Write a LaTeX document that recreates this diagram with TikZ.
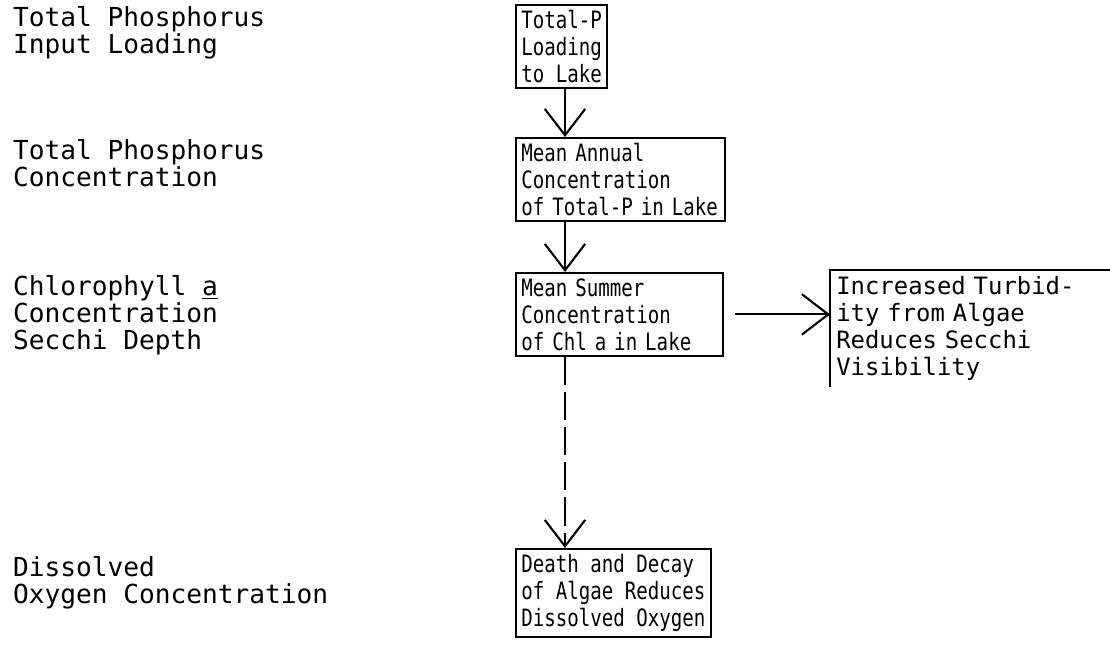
\documentclass[tikz,border=0pt]{standalone}
\usepackage{fontspec}
\setmonofont{DejaVu Sans Mono}
\newfontfamily\boxfont[FakeStretch=0.8]{DejaVu Sans Mono}
\usetikzlibrary{arrows.meta,calc}

\begin{document}
\begin{tikzpicture}[x=0.02cm,y=-0.02cm,line width=1.2pt,
    every node/.style={font=\ttfamily\fontsize{14.9}{15.4}\selectfont,align=left,anchor=north west,inner sep=0pt},
    box/.style={draw,font=\boxfont\fontsize{13.6}{15.4}\selectfont,inner xsep=3pt,inner ysep=3pt},
    vee/.style={-{Straight Barb[length=15pt,width=23pt]}}]
  \useasboundingbox (0,0) rectangle (1110,648);
  % row labels on the left
  \node (lload) at (12,5) {Total Phosphorus\\Input Loading};
  \node (lconc) at (12,138) {Total Phosphorus\\Concentration};
  \node (lchl) at (12,274) {Chlorophyll \underline{a}\\Concentration\\Secchi Depth};
  \node (loxy) at (12,555) {Dissolved\\Oxygen Concentration};
  % boxes
  \node[box] (load) at (515,4) {Total-P\\Loading\\to Lake};
  \node[box,text width=113pt] (conc) at (515,137) {Mean Annual\\Concentration\\of Total-P in Lake};
  \node[box,text width=112pt] (chl) at (515,272) {Mean Summer\\Concentration\\of Chl a in Lake};
  \node[box,draw=none,font=\ttfamily\fontsize{13.6}{15.4}\selectfont,text width=152pt] (secchi) at (830,270) {Increased Turbid-\\ity from Algae\\Reduces Secchi\\Visibility};
  \draw (secchi.north east) -- (secchi.north west) -- (secchi.south west);
  \node[box] (decay) at (515,548) {Death and Decay\\of Algae Reduces\\Dissolved Oxygen};
  % arrows
  \draw[vee] ($(load.south west)+(50,0)$) -- ($(conc.north west)+(50,0)$);
  \draw[vee] ($(conc.south west)+(50,0)$) -- ($(chl.north west)+(50,0)$);
  \draw[vee,dash pattern=on 16pt off 4pt] ($(chl.south west)+(50,0)$) -- ($(decay.north west)+(50,0)$);
  \draw[vee,shorten <=6pt] (chl.east) -- (chl.east -| secchi.west);
\end{tikzpicture}
\end{document}
